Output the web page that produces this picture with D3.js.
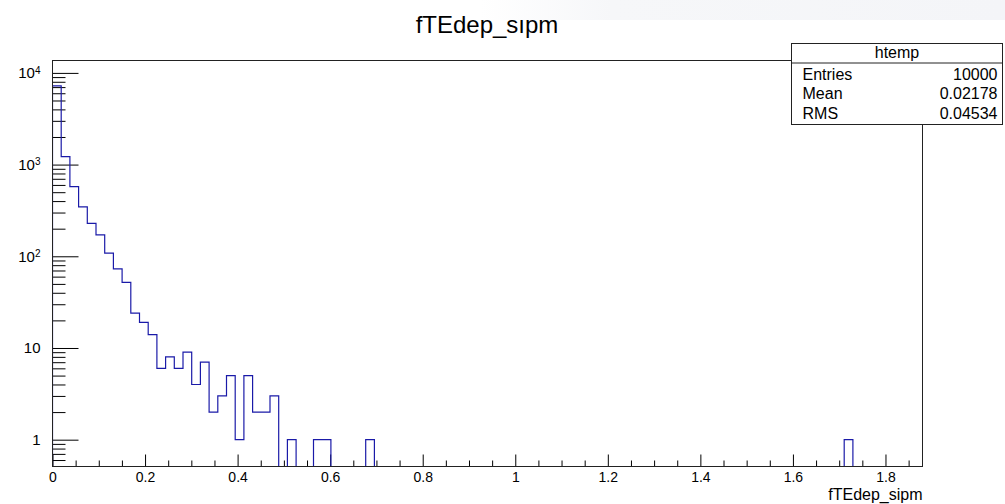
<!DOCTYPE html>
<html>
<head>
<meta charset="utf-8">
<script src="https://d3js.org/d3.v7.min.js"></script>
<style>
  body { margin: 0; background: #fff; }
  svg { font-family: "Liberation Sans", Arial, Helvetica, sans-serif; }
</style>
</head>
<body>
<div id="my_hist"></div>
<script>

// histogram contents, 100 bins between xLow and xHigh
var binCounts = [
  7200, 1220, 574, 345, 229, 171, 108, 73, 52, 24,
  19, 14, 6, 8, 6, 9, 4, 7, 2, 3,
  5, 1, 5, 2, 2, 3, 0, 1, 0, 0,
  1, 1, 0, 0, 0, 0, 1, 0, 0, 0,
  0, 0, 0, 0, 0, 0, 0, 0, 0, 0,
  0, 0, 0, 0, 0, 0, 0, 0, 0, 0,
  0, 0, 0, 0, 0, 0, 0, 0, 0, 0,
  0, 0, 0, 0, 0, 0, 0, 0, 0, 0,
  0, 0, 0, 0, 0, 0, 0, 0, 0, 0,
  0, 1, 0, 0, 0, 0, 0, 0, 0, 0
];
var xLow = 0, xHigh = 1.88;
var yLow = 0.51, yHigh = 13650;

var xMajorTicks = [0, 0.2, 0.4, 0.6, 0.8, 1, 1.2, 1.4, 1.6, 1.8];
var xMinorTicks = [0.05, 0.1, 0.15, 0.25, 0.3, 0.35, 0.45, 0.5, 0.55, 0.65, 0.7, 0.75,
                   0.85, 0.9, 0.95, 1.05, 1.1, 1.15, 1.25, 1.3, 1.35, 1.45, 1.5, 1.55,
                   1.65, 1.7, 1.75, 1.85];
var yMajorTicks = [1, 10, 100, 1000, 10000];
var yTickBase = ["1", "10", "10", "10", "10"];
var yTickExp = ["", "", "2", "3", "4"];

var histTitle = "fTEdep_s\u0131pm";
var xTitle = "fTEdep_sipm";
var statsName = "htemp";
var statNames = ["Entries", "Mean", "RMS"];
var statValues = ["10000", "0.02178", "0.04534"];

// frame of the pad
var margin = {top: 60.5, right: 82.5, bottom: 37.5, left: 52.5},
  fullW = 1005, fullH = 504,
  width = fullW - margin.left - margin.right,
  height = fullH - margin.top - margin.bottom;

var svg = d3.select("#my_hist")
  .append("svg")
  .attr("width", fullW)
  .attr("height", fullH);

// faint band in the top right corner
var grad = svg.append("defs").append("linearGradient")
  .attr("id", "band").attr("x1", "0").attr("x2", "1");
grad.append("stop").attr("offset", "0").attr("stop-color", "#ffffff");
grad.append("stop").attr("offset", "0.25").attr("stop-color", "#f6f7f9");
grad.append("stop").attr("offset", "1").attr("stop-color", "#f4f5f8");
svg.append("rect")
  .attr("x", 480).attr("y", 0)
  .attr("width", fullW - 480).attr("height", 20)
  .style("fill", "url(#band)");

svg.select("defs").append("clipPath").attr("id", "frameclip")
  .append("rect")
  .attr("x", 0).attr("y", 0)
  .attr("width", width).attr("height", height);

var g = svg.append("g")
  .attr("transform", "translate(" + margin.left + "," + margin.top + ")");

var x = d3.scaleLinear().domain([xLow, xHigh]).range([0, width]);
var y = d3.scaleLog().domain([yLow, yHigh]).range([height, 0]);

// y minor ticks (2..9 per decade)
var yMinor = [];
[0.1, 1, 10, 100, 1000].forEach(function(dec) {
  for (var k = 2; k <= 9; k++) {
    var v = dec * k;
    if (v >= yLow && v <= yHigh) yMinor.push(v);
  }
});

g.append("g")
  .call(d3.axisLeft(y).tickValues(yMinor).tickSize(-13).tickFormat(""))
  .call(function(a) { a.select(".domain").remove(); })
  .selectAll("line").attr("stroke", "#000");

var yAx = g.append("g")
  .call(d3.axisLeft(y).tickValues(yMajorTicks).tickSize(-26).tickPadding(12).tickFormat(""));
yAx.select(".domain").remove();
yAx.selectAll("line").attr("stroke", "#000");

// y labels with superscript exponents
g.selectAll(".ylab")
  .data(yMajorTicks)
  .enter()
  .append("text")
    .attr("class", "ylab")
    .attr("x", -12)
    .attr("y", function(d) { return y(d); })
    .attr("dy", "0.35em")
    .attr("text-anchor", "end")
    .style("font-size", "15px")
    .each(function(d, i) {
      var t = d3.select(this);
      t.append("tspan").text(yTickBase[i]);
      if (yTickExp[i] !== "") {
        t.append("tspan")
          .attr("dy", "-0.45em")
          .style("font-size", "10px")
          .text(yTickExp[i]);
      }
    });

// x axis ticks
g.append("g")
  .attr("transform", "translate(0," + height + ")")
  .call(d3.axisBottom(x).tickValues(xMinorTicks).tickSize(-6).tickFormat(""))
  .call(function(a) { a.select(".domain").remove(); })
  .selectAll("line").attr("stroke", "#000");

var xAx = g.append("g")
  .attr("transform", "translate(0," + height + ")")
  .call(d3.axisBottom(x).tickValues(xMajorTicks).tickSize(-12).tickPadding(6)
        .tickFormat(d3.format("~g")));
xAx.select(".domain").remove();
xAx.selectAll("line").attr("stroke", "#000");
xAx.selectAll("text")
  .attr("fill", "#000")
  .style("font-size", "14px")
  .style("font-family", "Liberation Sans, Arial, sans-serif");

// histogram outline
var binW = (xHigh - xLow) / binCounts.length;
var pts = [[x(xLow), height]];
binCounts.forEach(function(c, i) {
  var yy = c > 0 ? y(c) : height + 5;
  pts.push([x(xLow + i * binW), yy]);
  pts.push([x(xLow + (i + 1) * binW), yy]);
});
pts.push([x(xHigh), height + 5]);

g.append("path")
  .attr("clip-path", "url(#frameclip)")
  .attr("d", d3.line()(pts))
  .style("fill", "none")
  .style("stroke", "#1a1aa8")
  .style("stroke-width", 1.2);

// frame
g.append("rect")
  .attr("x", 0).attr("y", 0)
  .attr("width", width).attr("height", height)
  .style("fill", "none")
  .style("stroke", "#222")
  .style("stroke-width", 1);

// axis title
g.append("text")
  .attr("x", width)
  .attr("y", height + 33)
  .attr("text-anchor", "end")
  .style("font-size", "16px")
  .text(xTitle);

// title
svg.append("text")
  .attr("x", 487)
  .attr("y", 33)
  .attr("text-anchor", "middle")
  .style("font-size", "24px")
  .text(histTitle);

// stats box
var sb = svg.append("g").attr("transform", "translate(791.5,43.5)");
sb.append("rect")
  .attr("width", 211).attr("height", 81)
  .style("fill", "#fff")
  .style("stroke", "#222");
sb.append("line")
  .attr("x1", 0).attr("x2", 211)
  .attr("y1", 19.5).attr("y2", 19.5)
  .style("stroke", "#222");
sb.append("text")
  .attr("x", 105.5).attr("y", 14)
  .attr("text-anchor", "middle")
  .style("font-size", "16px")
  .text(statsName);
sb.selectAll(".sname")
  .data(statNames)
  .enter()
  .append("text")
    .attr("x", 11)
    .attr("y", function(d, i) { return 36 + i * 19.5; })
    .style("font-size", "16px")
    .text(function(d) { return d; });
sb.selectAll(".sval")
  .data(statValues)
  .enter()
  .append("text")
    .attr("x", 206)
    .attr("y", function(d, i) { return 36 + i * 19.5; })
    .attr("text-anchor", "end")
    .style("font-size", "16px")
    .text(function(d) { return d; });

</script>
</body>
</html>
